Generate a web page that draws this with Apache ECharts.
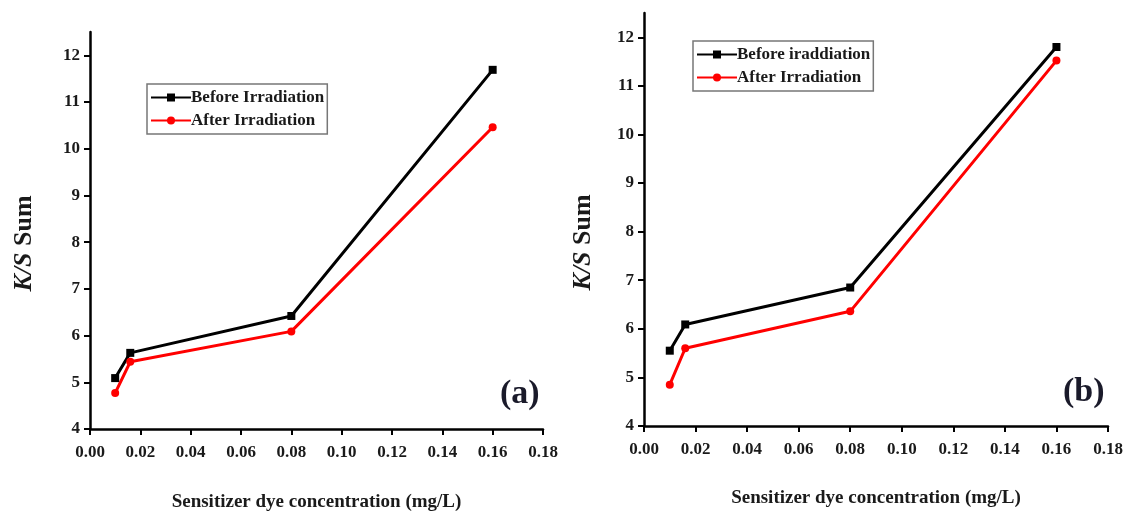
<!DOCTYPE html>
<html><head><meta charset="utf-8">
<script src="https://cdn.jsdelivr.net/npm/echarts@6/dist/echarts.min.js"></script>
<style>html,body{margin:0;padding:0;background:#fff}#c{width:1128px;height:512px}</style>
</head><body><div id="c"></div>
<script>
const xValues = [0.01, 0.016, 0.08, 0.16];
const aBefore = [5.09, 5.63, 6.42, 11.69];
const aAfter = [4.77, 5.44, 6.09, 10.46];
const bBefore = [5.55, 6.09, 6.85, 11.8];
const bAfter = [4.85, 5.6, 6.36, 11.52];
const yTicks = [4, 5, 6, 7, 8, 9, 10, 11, 12];
const nameA = ['Before Irradiation', 'After Irradiation'];
const nameB = ['Before iraddiation', 'After Irradiation'];
const xTitle = 'Sensitizer dye concentration (mg/L)';

const FONT = '"Liberation Serif", "Times New Roman", serif';
const chart = echarts.init(document.getElementById('c'));
const pair = (xs, ys) => xs.map((x, i) => [x, ys[i]]);

function xAxis(gi, gap) {
  return {
    type: 'value', gridIndex: gi, min: 0, max: 0.18, interval: 0.02,
    name: xTitle, nameLocation: 'middle', nameGap: gap,
    nameTextStyle: {fontFamily: FONT, fontWeight: 'bold', fontSize: 19, color: '#1a1a1a'},
    axisLine: {show: true, onZero: false, lineStyle: {color: '#000', width: 2.5}},
    axisTick: {show: true, length: 6, inside: false, lineStyle: {color: '#000', width: 2}},
    axisLabel: {fontFamily: FONT, fontWeight: 'bold', fontSize: 17, color: '#1a1a1a', margin: 15,
      formatter: v => v.toFixed(2)},
    splitLine: {show: false}
  };
}
function yAxis(gi, gap, shift) {
  return {
    type: 'value', gridIndex: gi, min: 4, max: 12.5, interval: 1,
    name: '{i|K/S} Sum', nameLocation: 'middle', nameGap: gap,
    nameTextStyle: {fontFamily: FONT, fontWeight: 'bold', fontSize: 26, color: '#1a1a1a',
      padding: [0, shift, 0, 0],
      rich: {i: {fontFamily: FONT, fontWeight: 'bold', fontStyle: 'italic', fontSize: 26, color: '#1a1a1a'}}},
    axisLine: {show: true, onZero: false, lineStyle: {color: '#000', width: 2.5}},
    axisTick: {show: true, length: 6, customValues: yTicks, lineStyle: {color: '#000', width: 2}},
    axisLabel: {fontFamily: FONT, fontWeight: 'bold', fontSize: 17, color: '#1a1a1a', margin: 10,
      customValues: yTicks},
    splitLine: {show: false}
  };
}
function series(name, gi, data, color, symbol) {
  return {
    type: 'line', name: name, xAxisIndex: gi, yAxisIndex: gi, data: data,
    symbol: symbol, symbolSize: 8,
    lineStyle: {color: color, width: 3}, itemStyle: {color: color},
    animation: false
  };
}
function legend(names, left, top) {
  return {
    data: names.map(n => ({name: n})),
    left: left, top: top, orient: 'vertical', itemGap: 6,
    itemWidth: 40, itemHeight: 10,
    borderColor: '#777', borderWidth: 1.5, padding: [5, 3, 5, 3],
    textStyle: {fontFamily: FONT, fontWeight: 'bold', fontSize: 17, color: '#1a1a1a', padding: [0, 0, 0, -5]},
    selectedMode: false
  };
}

chart.setOption({
  animation: false,
  grid: [
    {left: 90, top: 32, width: 453, height: 397, containLabel: false, outerBoundsMode: 'none'},
    {left: 644, top: 13, width: 464, height: 413, containLabel: false, outerBoundsMode: 'none'}
  ],
  xAxis: [xAxis(0, 64), xAxis(1, 63)],
  yAxis: [yAxis(0, 53, 26), yAxis(1, 48, 46)],
  legend: [legend(nameA, 147, 84), legend(nameB, 693, 41)],
  series: [
    series(nameA[0], 0, pair(xValues, aBefore), '#000', 'rect'),
    series(nameA[1], 0, pair(xValues, aAfter), '#ff0000', 'circle'),
    series(nameB[0], 1, pair(xValues, bBefore), '#000', 'rect'),
    series(nameB[1], 1, pair(xValues, bAfter), '#ff0000', 'circle')
  ],
  graphic: [
    {type: 'text', left: 500, top: 377, style: {text: '(a)', fontFamily: FONT, fontWeight: 'bold', fontSize: 34, fill: '#1a1a2a'}},
    {type: 'text', left: 1063, top: 375, style: {text: '(b)', fontFamily: FONT, fontWeight: 'bold', fontSize: 34, fill: '#1a1a2a'}}
  ]
});
</script></body></html>
